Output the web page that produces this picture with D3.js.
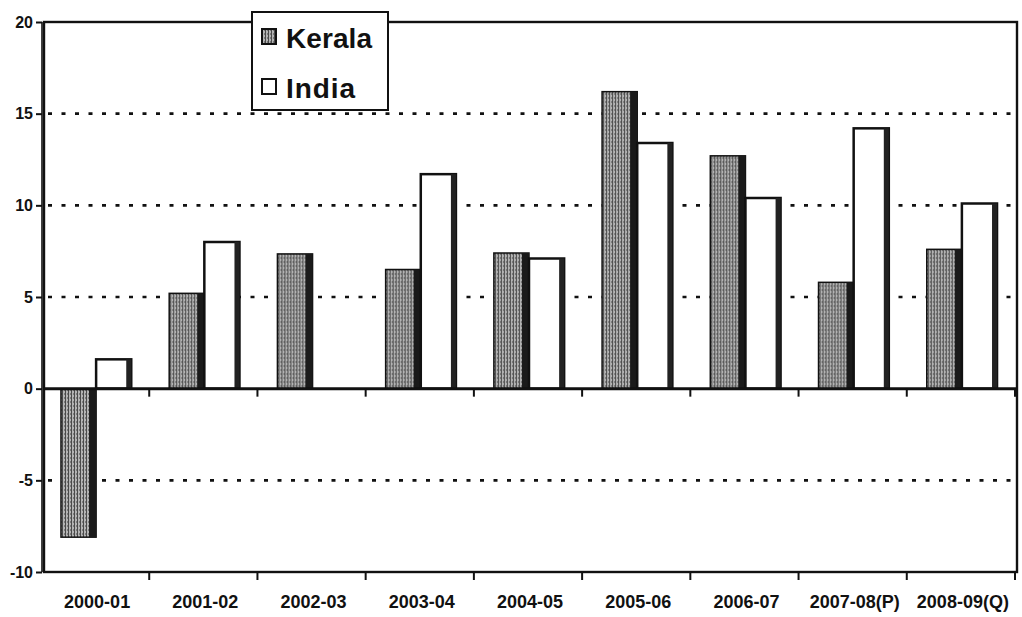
<!DOCTYPE html>
<html>
<head>
<meta charset="utf-8">
<script src="https://cdn.jsdelivr.net/npm/d3@7"></script>
<style>
  html, body { margin: 0; padding: 0; background: #fff; }
  svg { display: block; font-family: "Liberation Sans", Arial, sans-serif; }
</style>
</head>
<body>
<svg id="chart" width="1022" height="617"></svg>
<script>
// Data
const years = ["2000-01", "2001-02", "2002-03", "2003-04", "2004-05", "2005-06", "2006-07", "2007-08(P)", "2008-09(Q)"];
const kerala = [-8.1, 5.2, 7.35, 6.5, 7.4, 16.2, 12.7, 5.8, 7.6];
const india = [1.6, 8.0, 0, 11.7, 7.1, 13.4, 10.4, 14.2, 10.1];
const seriesNames = ["Kerala", "India"];
const yTicks = [-10, -5, 0, 5, 10, 15, 20];
const gridTicks = [-5, 5, 10, 15];

const $svg = d3.select("#chart");

// Pattern for the grey shaded Kerala bars
const defs = $svg.append("defs");
const pat = defs.append("pattern")
    .attr("id", "shade")
    .attr("patternUnits", "userSpaceOnUse")
    .attr("width", 3).attr("height", 4);
pat.append("rect").attr("width", 3).attr("height", 4).attr("fill", "#b4b4b4");
pat.append("rect").attr("x", 0).attr("width", 1).attr("height", 4).attr("fill", "#4a4a4a");
pat.append("rect").attr("x", 2).attr("y", 1).attr("width", 1).attr("height", 2).attr("fill", "#7a7a7a");

// Scales
const frame = { left: 44, right: 1017, top: 22, bottom: 572 };
const x = d3.scaleBand().domain(years).range([41, 1015]);
const xs = d3.scaleBand().domain(seriesNames).range([1, x.bandwidth() + 1]).paddingOuter(0.54);
const y = d3.scaleLinear().domain([-10, 20]).range([frame.bottom, frame.top]);

// Grid (dotted)
$svg.append("g")
  .selectAll("line")
  .data(gridTicks)
  .join("line")
    .attr("x1", frame.left + 4)
    .attr("x2", frame.right - 4)
    .attr("y1", d => y(d))
    .attr("y2", d => y(d))
    .attr("stroke", "#111")
    .attr("stroke-width", 2.6)
    .attr("stroke-dasharray", "4,9.5");

// Bars
const rows = years.map((yr, i) => ({ yr, k: kerala[i], n: india[i] }));
const groups = $svg.append("g")
  .selectAll("g")
  .data(rows)
  .join("g")
    .attr("transform", d => `translate(${x(d.yr)},0)`);

const bw = xs.bandwidth();

// Kerala
groups.append("rect")
    .attr("x", xs("Kerala"))
    .attr("y", d => y(Math.max(0, d.k)))
    .attr("width", bw)
    .attr("height", d => Math.abs(y(d.k) - y(0)))
    .attr("fill", "url(#shade)")
    .attr("stroke", "#111")
    .attr("stroke-width", 1.5);
groups.append("rect")
    .attr("x", xs("Kerala") + bw - 7)
    .attr("y", d => y(Math.max(0, d.k)))
    .attr("width", 7)
    .attr("height", d => Math.abs(y(d.k) - y(0)))
    .attr("fill", "#1a1a1a");

// India
const indiaBars = groups.filter(d => d.n > 0);
indiaBars.append("rect")
    .attr("x", xs("India"))
    .attr("y", d => y(d.n))
    .attr("width", bw)
    .attr("height", d => y(0) - y(d.n))
    .attr("fill", "#fff")
    .attr("stroke", "#111")
    .attr("stroke-width", 2.5);
indiaBars.append("rect")
    .attr("x", xs("India") + bw - 5)
    .attr("y", d => y(d.n))
    .attr("width", 5)
    .attr("height", d => y(0) - y(d.n))
    .attr("fill", "#222");

// Frame
$svg.append("rect")
    .attr("x", frame.left).attr("y", frame.top)
    .attr("width", frame.right - frame.left)
    .attr("height", frame.bottom - frame.top)
    .attr("fill", "none")
    .attr("stroke", "#111")
    .attr("stroke-width", 2.4);
$svg.append("line")
    .attr("x1", frame.left - 2).attr("x2", frame.left - 2)
    .attr("y1", frame.top).attr("y2", frame.bottom)
    .attr("stroke", "#111").attr("stroke-width", 1.6);

// Zero line
$svg.append("line")
    .attr("x1", frame.left).attr("x2", frame.right)
    .attr("y1", y(0)).attr("y2", y(0))
    .attr("stroke", "#111").attr("stroke-width", 3);

// Y axis
const yAxis = d3.axisLeft(y)
    .tickValues(yTicks)
    .tickFormat(d => String(d))
    .tickSize(6)
    .tickPadding(3);
const $yAxis = $svg.append("g")
    .attr("transform", `translate(${frame.left - 2},0)`)
    .call(yAxis);
$yAxis.select(".domain").remove();
$yAxis.selectAll("line").attr("stroke", "#111").attr("stroke-width", 2);
$yAxis.selectAll("text")
    .attr("font-size", 16)
    .attr("font-weight", "bold")
    .attr("fill", "#111");

// X ticks at category boundaries, on the zero line and at the bottom
const bounds = years.map(d => x(d) + x.step());
[y(0), frame.bottom].forEach(yy => {
  $svg.append("g")
    .selectAll("line")
    .data(bounds)
    .join("line")
      .attr("x1", d => d).attr("x2", d => d)
      .attr("y1", yy).attr("y2", yy + 8)
      .attr("stroke", "#111").attr("stroke-width", 2);
});

// X labels
$svg.append("g")
  .selectAll("text")
  .data(years)
  .join("text")
    .attr("x", d => x(d) + x.bandwidth() / 2 + 2)
    .attr("y", 608)
    .attr("text-anchor", "middle")
    .attr("font-size", 18)
    .attr("font-weight", "bold")
    .attr("fill", "#111")
    .text(d => d);

// Legend
const $legend = $svg.append("g");
$legend.append("rect")
    .attr("x", 252).attr("y", 12)
    .attr("width", 136).attr("height", 98)
    .attr("fill", "#fff")
    .attr("stroke", "#111")
    .attr("stroke-width", 2);
const legendItems = $legend.selectAll("g")
  .data(seriesNames)
  .join("g")
    .attr("transform", (d, i) => `translate(262,${i * 50})`);
legendItems.append("rect")
    .attr("x", 0).attr("y", 29)
    .attr("width", 14).attr("height", 15)
    .attr("fill", d => d === "Kerala" ? "url(#shade)" : "#fff")
    .attr("stroke", "#111")
    .attr("stroke-width", 2);
legendItems.append("text")
    .attr("x", 24).attr("y", 48)
    .attr("font-size", 28)
    .attr("font-weight", "bold")
    .attr("fill", "#111")
    .attr("textLength", d => d === "Kerala" ? 86 : 69)
    .text(d => d);
</script>
</body>
</html>
